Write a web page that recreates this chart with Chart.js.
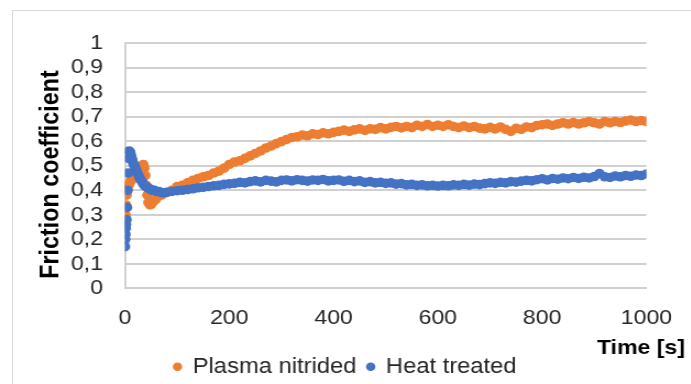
<!DOCTYPE html>
<html><head><meta charset="utf-8">
<script src="https://cdn.jsdelivr.net/npm/chart.js@4/dist/chart.umd.min.js"></script>
<style>
html,body{margin:0;padding:0;background:#fff;width:691px;height:384px;overflow:hidden}
#frame{position:absolute;left:12px;top:10px;width:700px;height:400px;border-left:1px solid #d9d9d9;border-top:1px solid #d9d9d9}
#wrap{position:absolute;left:0;top:0;width:628px;height:384px;transform:scaleX(1.1);transform-origin:0 0}
</style></head><body>
<div id="frame"></div>
<div id="wrap"><canvas id="c"></canvas></div>
<script>
const seriesNames = ['Plasma nitrided', 'Heat treated'];
const xTitle = 'Time [s]';
const yTitle = 'Friction coefficient';
const yTickLabels = ['0','0,1','0,2','0,3','0,4','0,5','0,6','0,7','0,8','0,9','1'];
const xTickValues = [0,200,400,600,800,1000];

const plasmaTime = [0,1,2,3,4,5,7,9,12,15,18,21,24,27,30,33,35,37,39,41,43,45,48,51,55,
 60,70,80,90,100,110,120,130,140,150,160,170,180,190,200,210,220,230,240,250,260,270,280,290,
 300,310,320,330,340,350,360,370,380,390,400,410,420,430,440,450,460,470,480,490,
 500,510,520,530,540,550,560,570,580,590,600,610,620,630,640,650,660,670,680,690,
 700,710,720,730,740,750,760,770,780,790,800,810,820,830,840,850,860,870,880,890,
 900,910,920,930,940,950,960,970,980,990,1000];
const plasmaCoef = [0.27,0.30,0.34,0.38,0.41,0.42,0.42,0.43,0.44,0.45,0.45,0.46,0.47,0.48,0.49,0.50,0.505,0.49,0.46,0.42,0.38,0.35,0.34,0.345,0.355,
 0.365,0.38,0.39,0.40,0.415,0.42,0.43,0.44,0.448,0.455,0.46,0.47,0.478,0.49,0.505,0.515,0.52,0.53,0.54,0.55,0.56,0.572,0.58,0.59,
 0.598,0.607,0.615,0.618,0.625,0.622,0.63,0.627,0.634,0.63,0.636,0.64,0.645,0.64,0.646,0.65,0.644,0.65,0.648,0.655,
 0.65,0.656,0.66,0.654,0.66,0.655,0.665,0.66,0.668,0.66,0.665,0.66,0.667,0.66,0.655,0.662,0.655,0.66,0.653,0.65,
 0.656,0.65,0.658,0.648,0.64,0.652,0.648,0.658,0.655,0.664,0.667,0.67,0.664,0.67,0.675,0.67,0.676,0.67,0.675,0.68,
 0.675,0.67,0.68,0.675,0.68,0.676,0.682,0.686,0.68,0.684,0.68];

const heatTime = [0,0.5,1,1.5,2,3,4,5,6,7,8,10,12,14,16,18,20,22,25,28,31,34,37,40,44,48,52,56,60,65,70,75,
 80,90,100,110,120,130,140,150,160,170,180,190,200,210,220,230,240,250,260,270,280,290,
 300,310,320,330,340,350,360,370,380,390,400,410,420,430,440,450,460,470,480,490,
 500,510,520,530,540,550,560,570,580,590,600,610,620,630,640,650,660,670,680,690,
 700,710,720,730,740,750,760,770,780,790,800,810,820,830,840,850,860,870,880,890,
 900,910,920,930,940,950,960,970,980,990,1000];
const heatCoef = [0.17,0.20,0.22,0.245,0.26,0.28,0.33,0.40,0.47,0.53,0.56,0.555,0.54,0.525,0.51,0.50,0.49,0.48,0.465,0.45,0.44,0.43,0.42,0.415,0.41,0.405,0.40,0.40,0.395,0.395,0.39,0.39,
 0.392,0.395,0.398,0.40,0.403,0.406,0.41,0.412,0.415,0.418,0.42,0.424,0.426,0.428,0.432,0.43,0.435,0.438,0.434,0.44,0.437,0.434,
 0.44,0.442,0.438,0.443,0.44,0.437,0.442,0.44,0.444,0.438,0.44,0.442,0.436,0.44,0.435,0.438,0.432,0.435,0.43,0.432,
 0.428,0.43,0.425,0.427,0.422,0.424,0.42,0.422,0.418,0.42,0.417,0.42,0.418,0.422,0.42,0.424,0.421,0.425,0.423,0.427,
 0.43,0.428,0.432,0.43,0.435,0.433,0.437,0.44,0.438,0.443,0.447,0.442,0.448,0.445,0.45,0.447,0.452,0.448,0.453,0.45,
 0.456,0.468,0.455,0.452,0.458,0.455,0.46,0.457,0.462,0.46,0.466];

const toPoints = (xs, ys) => xs.map((x, i) => ({x: x, y: ys[i]}));
const FONT = "'Liberation Sans', Arial, sans-serif";
Chart.defaults.font.family = FONT;
Chart.defaults.color = '#262626';

const axisTitles = {
  id: 'axisTitles',
  afterDraw(chart) {
    const ctx = chart.ctx;
    ctx.save();
    ctx.fillStyle = '#000';
    ctx.font = 'bold 23.3px ' + FONT;
    ctx.textAlign = 'center';
    ctx.textBaseline = 'alphabetic';
    ctx.translate(52.7, 174.5);
    ctx.rotate(-Math.PI / 2);
    ctx.fillText(yTitle, 0, 0);
    ctx.restore();
    ctx.save();
    ctx.fillStyle = '#000';
    ctx.font = 'bold 21px ' + FONT;
    ctx.textAlign = 'center';
    ctx.textBaseline = 'alphabetic';
    ctx.fillText(xTitle, 582.7, 354);
    ctx.restore();
  }
};

new Chart(document.getElementById('c'), {
  type: 'scatter',
  data: {
    datasets: [
      {label: seriesNames[1], data: toPoints(heatTime, heatCoef), backgroundColor: '#4472C4', borderColor: '#4472C4'},
      {label: seriesNames[0], data: toPoints(plasmaTime, plasmaCoef), backgroundColor: '#ED7D31', borderColor: '#ED7D31'}
    ]
  },
  options: {
    responsive: true,
    maintainAspectRatio: false,
    animation: false,
    events: [],
    elements: {point: {radius: 4.8, borderWidth: 0, hoverRadius: 4.8}},
    layout: {padding: {left: 0, right: 0, top: 43, bottom: -3.5}},
    plugins: {
      tooltip: {enabled: false},
      legend: {
        position: 'bottom',
        reverse: true,
        labels: {usePointStyle: true, pointStyle: 'circle', boxWidth: 6, boxHeight: 6, font: {size: 21.6}, color: '#262626', padding: 10}
      }
    },
    scales: {
      x: {
        type: 'linear', min: 0, max: 1000,
        afterFit: s => { s.height = 57.5; },
        afterBuildTicks: s => { s.ticks = xTickValues.map(v => ({value: v})); },
        ticks: {font: {size: 21}, padding: 17, color: '#262626', autoSkip: false, maxRotation: 0, callback: v => String(v)},
        grid: {display: false, drawTicks: false},
        border: {display: true, color: '#d0d0d0', width: 2}
      },
      y: {
        min: 0, max: 1,
        afterFit: s => { s.width = 113.6; },
        ticks: {stepSize: 0.1, autoSkip: false, font: {size: 21}, padding: 20, color: '#262626', callback: (v, i) => yTickLabels[i]},
        grid: {color: '#d0d0d0', lineWidth: 2, drawTicks: false},
        border: {display: true, color: '#d0d0d0', width: 2}
      },
      yRight: {
        position: 'right', min: 0, max: 1,
        afterFit: s => { s.width = 34.4; },
        ticks: {display: false},
        grid: {display: false, drawTicks: false},
        border: {display: false}
      }
    }
  },
  plugins: [axisTitles]
});
</script>
</body></html>
